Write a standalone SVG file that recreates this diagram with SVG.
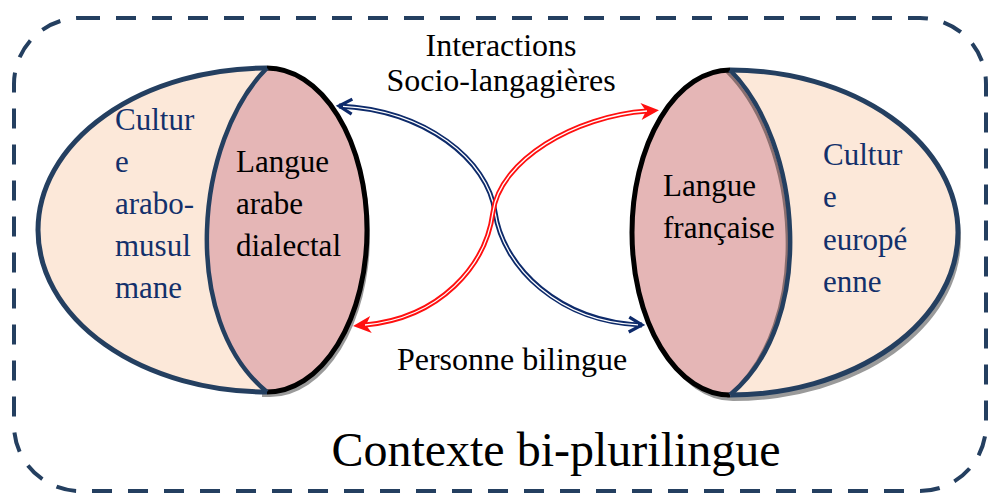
<svg xmlns="http://www.w3.org/2000/svg" width="990" height="496" viewBox="0 0 990 496">
<style>
text{font-family:"Liberation Serif","Times New Roman",serif;}
.lbl{font-size:31px;fill:#000;}
.top{font-size:32px;fill:#000;}
.cul{font-size:31px;fill:#13306b;}
.culfill{fill:#fce8d9;stroke:#243f60;stroke-width:5;}
.lens{fill:#e5b6b6;stroke:none;}
.lensout{fill:none;stroke:#000;stroke-width:5;}
.inner{fill:none;stroke:#243f60;stroke-width:4.5;}
.shadow{fill:#9a9a9a;stroke:none;}
.blue{fill:none;stroke:#0d2a6a;stroke-width:5;}
.red{fill:none;stroke:#ff1010;stroke-width:5;}
.core{fill:none;stroke:#fff;stroke-width:1.3;}
</style>
<defs>
<marker id="ab" viewBox="-16 -10 20 20" refX="0" refY="0" markerWidth="20" markerHeight="20" markerUnits="userSpaceOnUse" orient="auto-start-reverse">
<path d="M-13,-7.5 L0,0 L-13,7.5" fill="none" stroke="#0d2a6a" stroke-width="3.2" stroke-linejoin="miter"/>
</marker>
<marker id="ar" viewBox="-8 -10 22 20" refX="0" refY="0" markerWidth="22" markerHeight="20" markerUnits="userSpaceOnUse" orient="auto-start-reverse">
<path d="M12,0 L-6,-8.5 L-1,0 L-6,8.5 Z" fill="#ff1010"/>
</marker>
</defs>

<rect x="14" y="18" width="972" height="473" rx="66" ry="66" fill="none" stroke="#243f60" stroke-width="4" stroke-dasharray="20 16"/>

<g id="node-left">
<path class="shadow" d="M270,73 A100,162 0 0 1 270,397 L262,397 Z"/>
<path class="culfill" d="M267,68 A229,162 0 0 0 267,392"/>
<path class="lens" d="M267,68 A100,162 0 0 1 267,392 C179,320 195,140 267,68 Z"/>
<path class="lensout" d="M267,68 A100,162 0 0 1 267,392"/>
<path class="inner" d="M267,392 C179,320 195,140 267,68"/>
<text class="cul" x="115" y="130">Cultur</text>
<text class="cul" x="115" y="172">e</text>
<text class="cul" x="115" y="214">arabo-</text>
<text class="cul" x="115" y="256">musul</text>
<text class="cul" x="115" y="298">mane</text>
<text class="lbl" x="236" y="172">Langue</text>
<text class="lbl" x="236" y="214">arabe</text>
<text class="lbl" x="236" y="256">dialectal</text>
</g>

<g id="node-right">
<path class="shadow" d="M733,76 A228,162.5 0 0 1 733,401 A98,162.5 0 0 1 733,76 Z"/>
<path class="culfill" d="M730,70 A228,162.5 0 0 1 730,395"/>
<path class="lens" d="M730,70 A98,162.5 0 0 0 730,395 C818,322 802,142 730,70 Z"/>
<path d="M727,72 C799,144 815,324 727,397" fill="none" stroke="#8a6f6f" stroke-width="3"/>
<path class="lensout" d="M730,70 A98,162.5 0 0 0 730,395"/>
<path class="inner" d="M730,395 C818,322 802,142 730,70"/>
<text class="lbl" x="663" y="196">Langue</text>
<text class="lbl" x="663" y="238">française</text>
<text class="cul" x="823" y="165">Cultur</text>
<text class="cul" x="823" y="207">e</text>
<text class="cul" x="823" y="250">europé</text>
<text class="cul" x="823" y="292">enne</text>
</g>

<g id="connectors">
<path class="blue" marker-start="url(#ab)" marker-end="url(#ab)" d="M339,106 C425,110 488,160 495,212 C503,268 560,322 642,325"/>
<path class="core" d="M343,106.3 C425,110 488,160 495,212 C503,268 560,322 638,324.9"/>
<path class="red" marker-start="url(#ar)" marker-end="url(#ar)" d="M647,111 C575,116 500,160 493,212 C486,266 440,318 365,325"/>
<path class="core" d="M647,111 C575,116 500,160 493,212 C486,266 440,318 365,325"/>
</g>

<g id="labels">
<text class="top" x="501" y="56" text-anchor="middle">Interactions</text>
<text class="top" x="501" y="91" text-anchor="middle">Socio-langagières</text>
<text class="top" x="512" y="370" text-anchor="middle">Personne bilingue</text>
<text x="556" y="466" text-anchor="middle" style="font-size:48px;fill:#000">Contexte bi-plurilingue</text>
</g>
</svg>
